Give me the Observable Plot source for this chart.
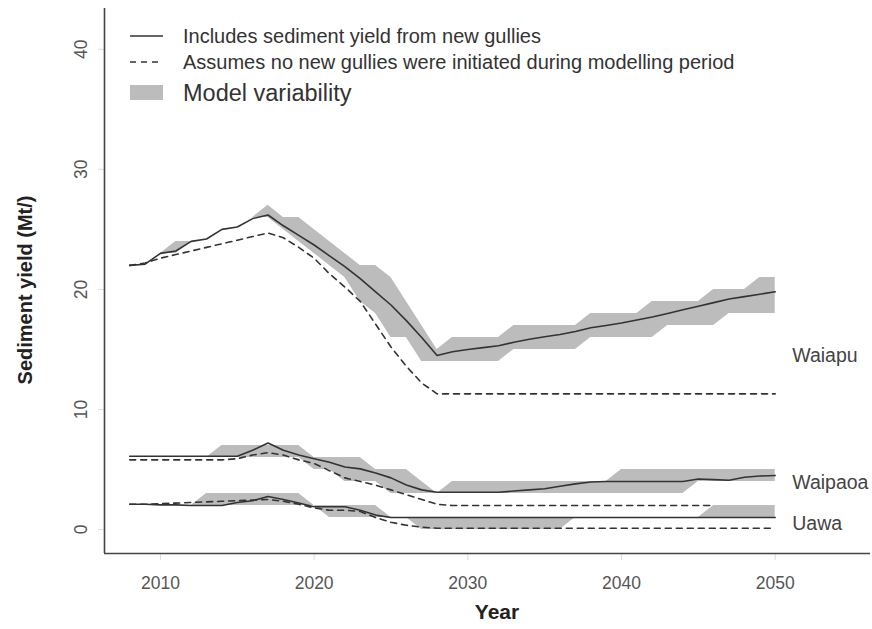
<!DOCTYPE html>
<html>
<head>
<meta charset="utf-8">
<script src="https://cdn.jsdelivr.net/npm/d3@7"></script>
<script src="https://cdn.jsdelivr.net/npm/@observablehq/plot@0.6"></script>
<style>
  body { margin: 0; background: #fff; font-family: "Liberation Sans", Arial, sans-serif; }
  #wrap { position: relative; width: 872px; height: 629px; }
  .legend { position: absolute; left: 130px; top: 23px; color: #333; font-size: 20px; }
  .legend .row { display: flex; align-items: center; height: 26px; white-space: nowrap; }
  .legend .row.big { font-size: 23.5px; height: 36px; }
  .legend svg { width: 53px; height: 20px; flex: none; }
  .ytitle { position: absolute; left: 25px; top: 290px; transform: translate(-50%, -50%) rotate(-90deg);
            font-weight: bold; font-size: 20px; color: #222; white-space: nowrap; }
  .xtitle { position: absolute; left: 497px; top: 612px; transform: translate(-50%, -50%);
            font-weight: bold; font-size: 21px; color: #222; }
</style>
</head>
<body>
<div id="wrap"></div>
<script>
// Annual sediment yield (Mt) per catchment, 2008–2050
const years = [2008, 2009, 2010, 2011, 2012, 2013, 2014, 2015, 2016, 2017, 2018, 2019, 2020, 2021, 2022,
  2023, 2024, 2025, 2026, 2027, 2028, 2029, 2030, 2031, 2032, 2033, 2034, 2035, 2036, 2037, 2038,
  2039, 2040, 2041, 2042, 2043, 2044, 2045, 2046, 2047, 2048, 2049, 2050];

const riverNames = ["Waiapu", "Waipaoa", "Uawa"];

// Includes sediment yield from new gullies
const waiapuWithNew = [22.0, 22.1, 23.0, 23.2, 24.0, 24.2, 25.0, 25.2, 25.9, 26.2, 25.3, 24.5, 23.7, 22.8, 21.9,
  20.9, 19.8, 18.7, 17.4, 16.0, 14.5, 14.8, 15.0, 15.15, 15.3, 15.6, 15.85, 16.05, 16.25, 16.5, 16.8,
  17.0, 17.2, 17.45, 17.7, 18.0, 18.3, 18.6, 18.9, 19.2, 19.4, 19.6, 19.8];
const waipaoaWithNew = [6.1, 6.1, 6.1, 6.1, 6.1, 6.1, 6.1, 6.1, 6.6, 7.2, 6.6, 6.2, 5.9, 5.6, 5.2,
  5.05, 4.7, 4.3, 3.7, 3.3, 3.1, 3.1, 3.1, 3.1, 3.1, 3.2, 3.3, 3.4, 3.6, 3.8, 3.95,
  4.0, 4.0, 4.0, 4.0, 4.0, 4.0, 4.2, 4.15, 4.1, 4.35, 4.45, 4.5];
const uawaWithNew = [2.1, 2.1, 2.05, 2.05, 2.0, 2.0, 2.0, 2.25, 2.4, 2.75, 2.5, 2.2, 1.9, 1.9, 1.9,
  1.6, 1.2, 1.0, 1.0, 1.0, 1.0, 1.0, 1.0, 1.0, 1.0, 1.0, 1.0, 1.0, 1.0, 1.0, 1.0,
  1.0, 1.0, 1.0, 1.0, 1.0, 1.0, 1.0, 1.0, 1.0, 1.0, 1.0, 1.0];

// Assumes no new gullies were initiated during the modelling period
const waiapuNoNew = [22.0, 22.2, 22.6, 22.9, 23.2, 23.5, 23.8, 24.1, 24.4, 24.7, 24.3, 23.5, 22.6, 21.3, 20.2,
  19.0, 17.1, 15.2, 13.6, 12.2, 11.3, 11.3, 11.3, 11.3, 11.3, 11.3, 11.3, 11.3, 11.3, 11.3, 11.3,
  11.3, 11.3, 11.3, 11.3, 11.3, 11.3, 11.3, 11.3, 11.3, 11.3, 11.3, 11.3];
const waipaoaNoNew = [5.8, 5.8, 5.8, 5.8, 5.8, 5.8, 5.8, 5.9, 6.2, 6.4, 6.2, 5.8, 5.5, 4.9, 4.3,
  4.0, 3.7, 3.3, 2.9, 2.5, 2.1, 2.0, 2.0, 2.0, 2.0, 2.0, 2.0, 2.0, 2.0, 2.0, 2.0,
  2.0, 2.0, 2.0, 2.0, 2.0, 2.0, 2.0, 2.0, null, null, null, null];
const uawaNoNew = [2.1, 2.1, 2.15, 2.2, 2.25, 2.3, 2.35, 2.4, 2.45, 2.5, 2.35, 2.1, 1.8, 1.6, 1.6,
  1.5, 1.0, 0.6, 0.35, 0.2, 0.1, 0.1, 0.1, 0.1, 0.1, 0.1, 0.1, 0.1, 0.1, 0.1, 0.1,
  0.1, 0.1, 0.1, 0.1, 0.1, 0.1, 0.1, 0.1, 0.1, 0.1, 0.1, 0.1];

// Model variability (range across model runs)
const waiapuLow = [22, 22, 23, 23, 24, 24, 25, 25, 26, 26, 25, 24, 23, 22, 21,
  19, 18, 16, 16, 14, 14, 14, 14, 14, 14, 15, 15, 15, 15, 15, 16,
  16, 16, 16, 16, 17, 17, 17, 17, 18, 18, 18, 18];
const waiapuHigh = [22, 22, 23, 24, 24, 24, 25, 25, 26, 27, 26, 26, 25, 24, 23,
  22, 22, 21, 19, 17, 15, 16, 16, 16, 16, 17, 17, 17, 17, 17, 18,
  18, 18, 18, 19, 19, 19, 19, 20, 20, 20, 21, 21];
const waipaoaLow = [6, 6, 6, 6, 6, 6, 6, 6, 6, 6, 6, 6, 5, 5, 4,
  4, 4, 3, 3, 3, 3, 3, 3, 3, 3, 3, 3, 3, 3, 3, 3,
  3, 3, 3, 3, 3, 3, 4, 4, 4, 4, 4, 4];
const waipaoaHigh = [6, 6, 6, 6, 6, 6, 7, 7, 7, 7, 7, 7, 6, 6, 6,
  6, 5, 5, 5, 4, 3, 4, 4, 4, 4, 4, 4, 4, 4, 4, 4,
  4, 5, 5, 5, 5, 5, 5, 5, 5, 5, 5, 5];
const uawaLow = [2, 2, 2, 2, 2, 2, 2, 2, 2, 2, 2, 2, 2, 1, 1,
  1, 1, 1, 1, 0, 0, 0, 0, 0, 0, 0, 0, 0, 0, 1, 1,
  1, 1, 1, 1, 1, 1, 1, 1, 1, 1, 1, 1];
const uawaHigh = [2, 2, 2, 2, 2, 3, 3, 3, 3, 3, 3, 3, 2, 2, 2,
  2, 2, 1, 1, 1, 1, 1, 1, 1, 1, 1, 1, 1, 1, 1, 1,
  1, 1, 1, 1, 1, 1, 1, 2, 2, 2, 2, 2];

// Where each catchment name sits at the right of the lines
const labelYields = [14.5, 3.9, 0.5];

const yTicks = [0, 10, 20, 30, 40];
const xTicks = [2010, 2020, 2030, 2040, 2050];

const series = [
  [waiapuWithNew, waiapuNoNew, waiapuLow, waiapuHigh],
  [waipaoaWithNew, waipaoaNoNew, waipaoaLow, waipaoaHigh],
  [uawaWithNew, uawaNoNew, uawaLow, uawaHigh]
];
const rows = series.flatMap(([withNew, noNew, low, high], k) =>
  years.map((year, i) => ({
    river: riverNames[k], year,
    withNew: withNew[i], noNew: noNew[i], low: low[i], high: high[i]
  })));
const labels = riverNames.map((name, k) => ({name, year: years[years.length - 1], y: labelYields[k]}));

const xDomain = [2006.36, 2056.2];
const yDomain = [-2, 43.4];

const chart = Plot.plot({
  width: 872,
  height: 629,
  marginLeft: 104,
  marginRight: 2,
  marginTop: 8,
  marginBottom: 76,
  x: {domain: xDomain},
  y: {domain: yDomain},
  style: {fontFamily: "'Liberation Sans', Arial, sans-serif", fontSize: "17.5px", color: "#555", background: "#fff"},
  marks: [
    Plot.areaY(rows, {x: "year", y1: "low", y2: "high", z: "river", fill: "#bcbcbc", fillOpacity: 1}),
    Plot.lineY(rows, {x: "year", y: "noNew", z: "river", stroke: "#333", strokeWidth: 1.6, strokeDasharray: "6,5"}),
    Plot.lineY(rows, {x: "year", y: "withNew", z: "river", stroke: "#333", strokeWidth: 1.6}),
    Plot.text(labels, {x: "year", y: "y", text: "name", textAnchor: "start", dx: 17, fontSize: 19.5, fill: "#444"}),
    Plot.axisX({ticks: xTicks, tickSize: 7, tickPadding: 16, tickFormat: d => String(d), stroke: "#ddd", label: null}),
    Plot.axisY({ticks: yTicks, tickSize: 6, tickPadding: 12, tickRotate: -90, stroke: "#ddd", label: null}),
    Plot.ruleX([xDomain[0]], {stroke: "#444", strokeWidth: 1.6}),
    Plot.ruleY([yDomain[0]], {stroke: "#444", strokeWidth: 1.6})
  ]
});

const wrap = document.getElementById("wrap");
wrap.appendChild(chart);

const legend = document.createElement("div");
legend.className = "legend";
legend.innerHTML = `
  <div class="row"><svg><line x1="0" x2="33" y1="10" y2="10" stroke="#333" stroke-width="1.6"/></svg>Includes sediment yield from new gullies</div>
  <div class="row"><svg><line x1="0" x2="33" y1="10" y2="10" stroke="#333" stroke-width="1.6" stroke-dasharray="6,5"/></svg>Assumes no new gullies were initiated during modelling period</div>
  <div class="row big"><svg><rect x="0" y="2" width="33" height="15" fill="#bcbcbc"/></svg>Model variability</div>`;
wrap.appendChild(legend);

const yTitle = document.createElement("div");
yTitle.className = "ytitle";
yTitle.textContent = "Sediment yield (Mt/)";
wrap.appendChild(yTitle);

const xTitle = document.createElement("div");
xTitle.className = "xtitle";
xTitle.textContent = "Year";
wrap.appendChild(xTitle);
</script>
</body>
</html>
